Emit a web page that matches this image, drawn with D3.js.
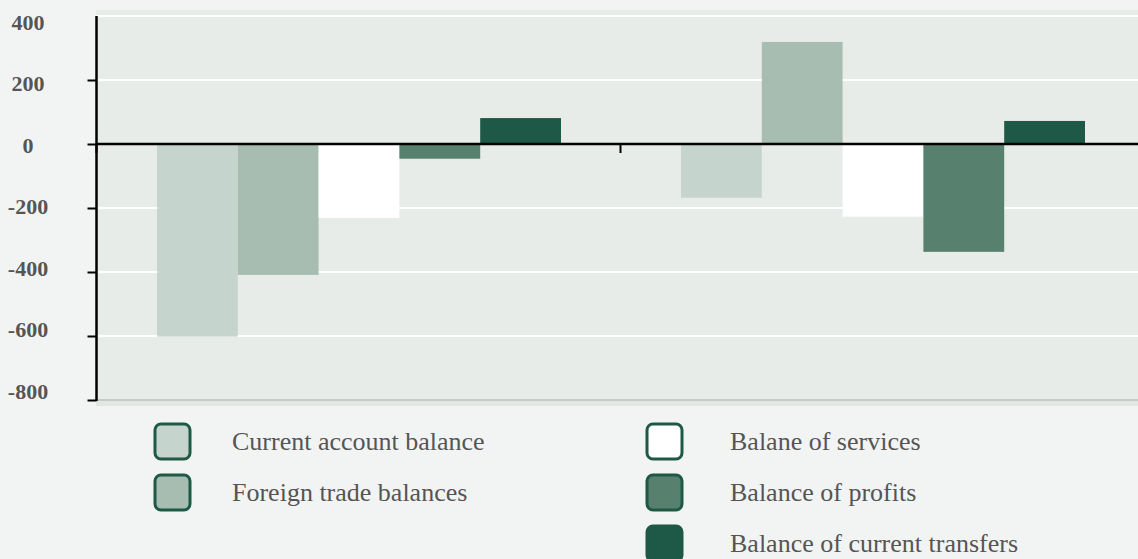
<!DOCTYPE html>
<html>
<head>
<meta charset="utf-8">
<script src="https://cdn.jsdelivr.net/npm/d3@7"></script>
<style>
html,body{margin:0;padding:0;background:#f2f4f3;}
svg{display:block;}
</style>
</head>
<body>
<svg id="chart" width="1138" height="559"></svg>
<script>
// ---- data ----
const categories = ["Period 1", "Period 2"];
const seriesNames = ["Current account balance", "Foreign trade balances", "Balane of services", "Balance of profits", "Balance of current transfers"];
const currentAccount = [-602, -168];
const foreignTrade = [-409, 319];
const services = [-231, -227];
const profits = [-46, -337];
const transfers = [81, 72];
const yTicks = [400, 200, 0, -200, -400, -600, -800];
const seriesColors = ["#c6d4ce", "#a7bdb1", "#ffffff", "#57806e", "#1e5847"];

const seriesValues = [currentAccount, foreignTrade, services, profits, transfers];
const data = categories.map((c, i) => ({
  cat: c,
  vals: seriesNames.map((s, j) => ({ key: s, value: seriesValues[j][i], color: seriesColors[j] }))
}));

const svg = d3.select("#chart");
const W = 1138, H = 559;
svg.append("rect").attr("width", W).attr("height", H).attr("fill", "#f2f4f3");

const plotLeft = 96.5, plotTop = 16, plotBottom = 400;
const y = d3.scaleLinear().domain([-800, 400]).range([plotBottom, plotTop]);
const yLabel = d3.scaleLinear().domain([-800, 400]).range([391, 22]);
const x0 = d3.scaleBand().domain(categories).range([plotLeft, plotLeft + 1048]).padding(0);
const x1 = d3.scaleBand().domain(seriesNames).range([60.5, 464.5]).padding(0);

// panel
svg.append("rect").attr("x", 96).attr("y", 10).attr("width", W - 96).attr("height", 396).attr("fill", "#e8ece9");
svg.append("rect").attr("x", 96).attr("y", 401).attr("width", W - 96).attr("height", 5).attr("fill", "#e3e7e4");

// gridlines
svg.append("g").selectAll("line").data(yTicks.filter(t => t !== -800)).join("line")
  .attr("x1", plotLeft).attr("x2", W)
  .attr("y1", d => y(d)).attr("y2", d => y(d))
  .attr("stroke", "#ffffff").attr("stroke-width", 2);
svg.append("line").attr("x1", plotLeft).attr("x2", W).attr("y1", y(-800)).attr("y2", y(-800))
  .attr("stroke", "#bdbfbb").attr("stroke-width", 1.5);

// bars
const groups = svg.append("g").selectAll("g").data(data).join("g")
  .attr("transform", d => `translate(${x0(d.cat)},0)`);
groups.selectAll("rect").data(d => d.vals).join("rect")
  .attr("x", d => x1(d.key))
  .attr("width", x1.bandwidth())
  .attr("y", d => y(Math.max(0, d.value)))
  .attr("height", d => Math.abs(y(d.value) - y(0)))
  .attr("fill", d => d.color);

// y axis
const yAxis = d3.axisLeft(y).tickValues(yTicks.filter(t => t !== 400)).tickSize(9).tickFormat("");
const gy = svg.append("g").attr("transform", `translate(${plotLeft},0)`).call(yAxis);
gy.select(".domain").remove();
gy.selectAll(".tick line").attr("stroke", "#000").attr("stroke-width", 2);
svg.append("line").attr("x1", plotLeft).attr("x2", plotLeft).attr("y1", plotTop).attr("y2", plotBottom + 1)
  .attr("stroke", "#000").attr("stroke-width", 2.5);

// y labels
svg.append("g").selectAll("text").data(yTicks).join("text")
  .attr("x", 28).attr("y", d => yLabel(d))
  .attr("text-anchor", "middle").attr("dominant-baseline", "central")
  .attr("font-family", "'Liberation Serif', 'Times New Roman', serif")
  .attr("font-weight", "bold").attr("font-size", 22).attr("fill", "#555555")
  .text(d => d);

// x axis (zero line)
const xAxis = d3.axisBottom(x0).tickSize(0).tickFormat("");
svg.append("line").attr("x1", plotLeft).attr("x2", W).attr("y1", y(0)).attr("y2", y(0))
  .attr("stroke", "#000").attr("stroke-width", 2.5);
const boundaries = [x0.range()[0], x0(categories[1]), x0.range()[1]];
svg.append("g").selectAll("line").data(boundaries).join("line")
  .attr("x1", d => d).attr("x2", d => d).attr("y1", y(0)).attr("y2", y(0) + 9)
  .attr("stroke", "#000").attr("stroke-width", 2);

// legend
const legendItems = [
  { i: 0, col: 0, row: 0 }, { i: 1, col: 0, row: 1 },
  { i: 2, col: 1, row: 0 }, { i: 3, col: 1, row: 1 }, { i: 4, col: 1, row: 2 }
];
const colSwatchX = [155, 647];
const colTextX = [232, 730];
const rowY = [441.5, 492.5, 543.5];
const lg = svg.append("g").selectAll("g").data(legendItems).join("g");
lg.append("rect")
  .attr("x", d => colSwatchX[d.col]).attr("y", d => rowY[d.row] - 17.5)
  .attr("width", 35).attr("height", 35).attr("rx", 6).attr("ry", 6)
  .attr("fill", d => seriesColors[d.i]).attr("stroke", "#1e5847").attr("stroke-width", 3);
lg.append("text")
  .attr("x", d => colTextX[d.col]).attr("y", d => rowY[d.row] + 8.5)
  .attr("font-family", "'Liberation Serif', 'Times New Roman', serif")
  .attr("font-size", 26).attr("fill", "#555555")
  .text(d => seriesNames[d.i]);
</script>
</body>
</html>
